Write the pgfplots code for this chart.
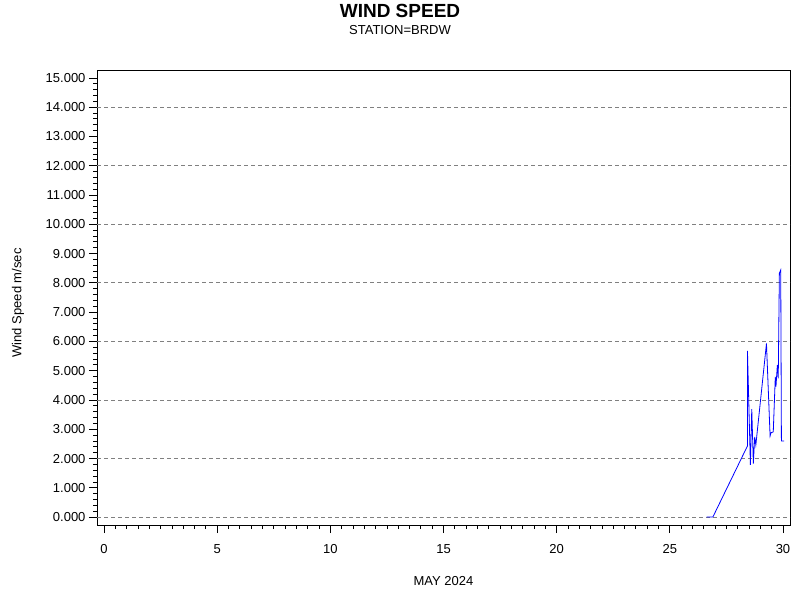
\documentclass[border=0pt]{standalone}
\usepackage{pgfplots}
\pgfplotsset{compat=1.18}
\usepackage{fontspec}
\setmainfont{Liberation Sans}

\begin{document}
\begin{tikzpicture}
\path[use as bounding box] (0,0) rectangle (800pt,600pt);
\node[font=\bfseries\fontsize{19}{21}\selectfont] at (400pt,589pt) {WIND SPEED};
\node[font=\fontsize{13}{15}\selectfont] at (400pt,570pt) {STATION=BRDW};
\node[rotate=90, font=\fontsize{13}{15}\selectfont] at (18pt,297pt) {Wind Speed m/sec};
\begin{axis}[
  at={(97pt,75pt)}, anchor=south west,
  scale only axis,
  width=693pt, height=455pt,
  xmin=-0.31, xmax=30.31,
  ymin=-0.27, ymax=15.27,
  xtick={0,5,...,30},
  minor x tick num=9,
  ytick={0,1,...,15},
  minor y tick num=4,
  tick align=outside,
  major tick length=8pt,
  minor tick length=4pt,
  every tick/.style={black, line width=0.8pt},
  xtick pos=bottom, ytick pos=left,
  grid=none,
  extra y ticks={0,2,4,6,8,10,12,14},
  extra y tick labels={},
  extra y tick style={
    grid=major,
    major grid style={gray, dash pattern=on 4pt off 3pt, line width=0.8pt},
    major tick length=0pt,
  },
  y tick label style={/pgf/number format/.cd, fixed, fixed zerofill, precision=3, 1000 sep={}},
  x tick label style={yshift=-8pt},
  /pgf/number format/assume math mode=true,
  tick label style={font=\fontsize{13}{15}\selectfont},
  xlabel={MAY 2024},
  label style={font=\fontsize{13}{15}\selectfont},
  xlabel style={at={(axis description cs:0.5,0)}, anchor=center, yshift=-56pt},
  axis line style={black, line width=0.8pt},
]
\addplot[blue, line width=0.8pt, mark=none] coordinates {
  (26.63,0) (26.90,0) (28.43,2.43) (28.43,5.68) (28.56,1.78) (28.62,3.69)
  (28.69,1.83) (28.75,2.74) (28.80,2.46) (29.27,5.93) (29.43,2.77)
  (29.47,2.88) (29.57,2.91) (29.66,4.79) (29.69,4.46) (29.75,5.19)
  (29.79,4.74) (29.84,8.33) (29.90,8.44) (29.93,2.60) (30.05,2.60)
};
\end{axis}
\end{tikzpicture}
\end{document}
